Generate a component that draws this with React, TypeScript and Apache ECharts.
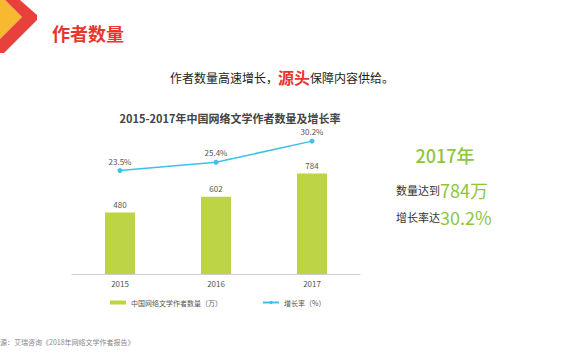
import React, { useEffect, useRef } from "react";
import * as echarts from "echarts";

const categories = ["2015", "2016", "2017"];
const authorCounts = [480, 602, 784];
const growthRates = [23.5, 25.4, 30.2];
const barName = "中国网络文学作者数量（万）";
const lineName = "增长率（%）";

const FONT = '"Noto Sans CJK SC", "Noto Sans", sans-serif';

export default function App() {
  const ref = useRef<HTMLDivElement>(null);
  useEffect(() => {
    const chart = echarts.init(ref.current!, null, { renderer: "svg" });
    chart.setOption({
      animation: false,
      backgroundColor: "#ffffff",
      textStyle: { fontFamily: FONT },
      title: {
        text: "2015-2017年中国网络文学作者数量及增长率",
        left: 225,
        textAlign: "center",
        top: 107,
        textStyle: { fontSize: 11, fontWeight: "bold", color: "#444", fontFamily: FONT },
      },
      grid: { left: 72, right: 210, top: 120, bottom: 86 },
      legend: {
        bottom: 54,
        left: 110,
        padding: 0,
        itemGap: 40,
        itemWidth: 16,
        itemHeight: 4,
        textStyle: { fontSize: 7, color: "#555", fontFamily: FONT },
        data: [
          { name: barName, icon: "rect" },
          { name: lineName },
        ],
      },
      xAxis: {
        type: "category",
        data: categories,
        axisLine: { lineStyle: { color: "#ccc" } },
        axisTick: { show: false },
        axisLabel: { fontSize: 8, color: "#555", margin: 5 },
      },
      yAxis: [
        { type: "value", min: 0, max: 1200, show: false, splitLine: { show: false } },
        { type: "value", min: 0, max: 35, show: false, splitLine: { show: false } },
      ],
      series: [
        {
          name: barName,
          type: "bar",
          data: authorCounts,
          barWidth: 30,
          itemStyle: { color: "#bdd544" },
          label: { show: true, position: "top", fontSize: 8, color: "#555", distance: 4 },
        },
        {
          name: lineName,
          type: "line",
          yAxisIndex: 1,
          data: growthRates,
          symbol: "circle",
          symbolSize: 5,
          lineStyle: { color: "#3fc0e8", width: 1.5 },
          itemStyle: { color: "#3fc0e8" },
          label: {
            show: true,
            position: "top",
            fontSize: 8,
            color: "#555",
            distance: 3,
            formatter: (p: any) => p.value.toFixed(1) + "%",
          },
        },
      ],
      graphic: [
        {
          type: "polygon",
          shape: { points: [[0, 0], [5, 0], [22, 17], [0, 39]] },
          style: { fill: "#f6b92f" },
        },
        {
          type: "polygon",
          shape: { points: [[5, 0], [20, 0], [37, 15], [37, 20], [4, 53], [0, 53], [0, 39], [22, 17]] },
          style: { fill: "#e8403a" },
        },
        {
          type: "text",
          x: 52,
          y: 33,
          style: {
            text: "作者数量",
            font: `bold 18px ${FONT}`,
            fill: "#e8362f",
            verticalAlign: "middle",
          },
        },
        {
          type: "text",
          x: 282,
          y: 77,
          style: {
            text: "{a|作者数量高速增长，}{b|源头}{a|保障内容供给。}",
            align: "center",
            verticalAlign: "middle",
            rich: {
              a: { fontSize: 12, fontFamily: FONT, fill: "#222" },
              b: { fontSize: 16, fontWeight: "bold", fontFamily: FONT, fill: "#e8362f" },
            },
          },
        },
        {
          type: "text",
          x: 445,
          y: 155,
          style: {
            text: "2017年",
            font: `500 18px ${FONT}`,
            fill: "#8cc63f",
            align: "center",
            verticalAlign: "middle",
          },
        },
        {
          type: "text",
          x: 396,
          y: 190,
          style: {
            text: "{a|数量达到}{b|784万}",
            verticalAlign: "middle",
            rich: {
              a: { fontSize: 11, fontFamily: FONT, fill: "#333" },
              b: { fontSize: 18, fontFamily: FONT, fill: "#8cc63f" },
            },
          },
        },
        {
          type: "text",
          x: 396,
          y: 217,
          style: {
            text: "{a|增长率达}{b|30.2%}",
            verticalAlign: "middle",
            rich: {
              a: { fontSize: 11, fontFamily: FONT, fill: "#333" },
              b: { fontSize: 18, fontFamily: FONT, fill: "#8cc63f" },
            },
          },
        },
        {
          type: "text",
          x: 0,
          y: 342,
          style: {
            text: "源：艾瑞咨询《2018年网络文学作者报告》",
            font: `7px ${FONT}`,
            fill: "#888",
            verticalAlign: "middle",
          },
        },
      ],
    });
    return () => chart.dispose();
  }, []);
  return <div ref={ref} style={{ width: 570, height: 360, position: "absolute", left: 0, top: 0 }} />;
}
